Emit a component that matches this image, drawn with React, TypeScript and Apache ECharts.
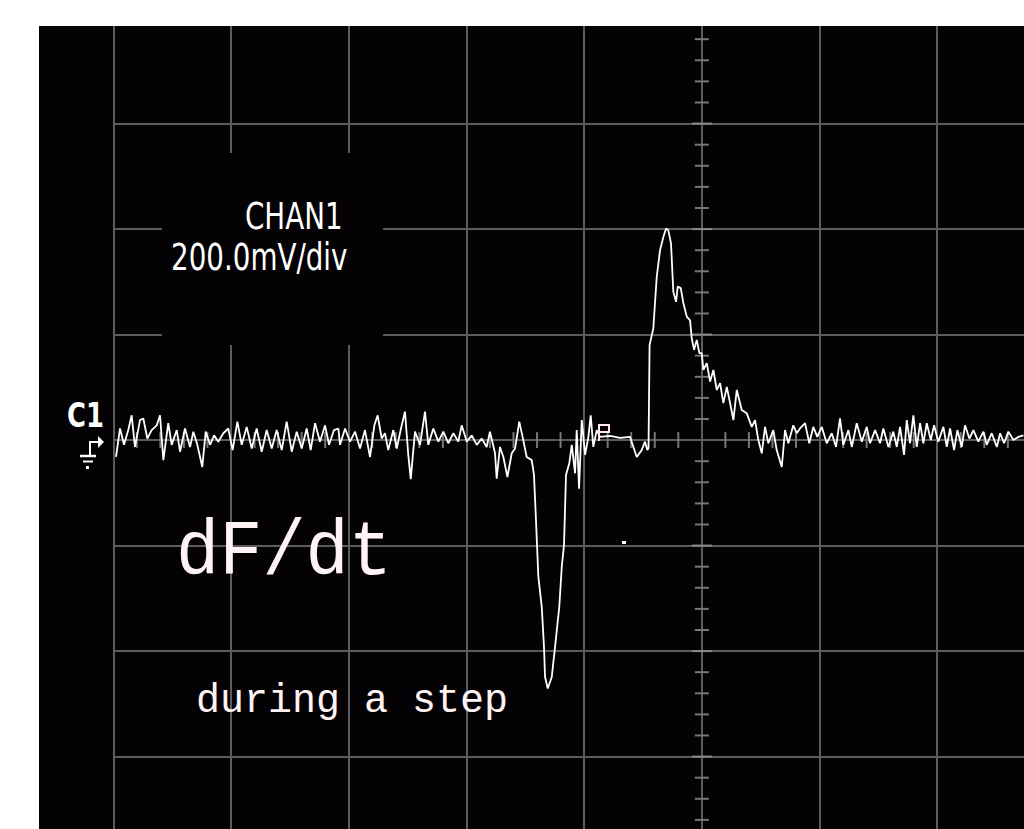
import React, { useEffect, useRef } from "react";
import * as echarts from "echarts";

// Oscilloscope trace, time in divisions, amplitude in mV (200 mV/div)
const baselineLeft: [number, number][] = [
  [0.023, -32], [0.057, 22], [0.091, -9], [0.127, 19], [0.156, 47], [0.184, -13], [0.227, 38], [0.255, 41],
  [0.289, 3], [0.326, 19], [0.369, 28], [0.397, 47], [0.425, -38], [0.467, 32], [0.496, -9], [0.539, 19],
  [0.567, -22], [0.609, 22], [0.652, -13], [0.68, 16], [0.714, -9], [0.756, -51], [0.785, 16], [0.822, -9],
  [0.856, 9], [0.892, -3], [0.935, 13], [0.977, 22], [1.014, -19], [1.054, 35], [1.091, -9], [1.133, 25],
  [1.176, -16], [1.218, 22], [1.261, -22], [1.303, 19], [1.346, -16], [1.388, 19], [1.431, -19], [1.473, 35],
  [1.516, -22], [1.558, 16], [1.601, -16], [1.643, 22], [1.677, -19], [1.714, 32], [1.756, -3], [1.799, 28],
  [1.833, -9], [1.875, 19], [1.912, 22], [1.926, -9], [1.969, 22], [2.011, -3], [2.054, 16], [2.096, -16],
  [2.138, 19], [2.181, -32], [2.218, 28], [2.246, 47], [2.28, 3], [2.308, 13], [2.336, -19], [2.379, 19],
  [2.408, -16], [2.444, 22], [2.478, 54], [2.506, -28], [2.527, -74], [2.563, 16], [2.606, -9], [2.648, 54],
  [2.676, -9], [2.719, 22], [2.761, -3], [2.804, 16], [2.846, -6], [2.889, 13], [2.931, -3], [2.96, 28],
  [3.003, -3], [3.045, 9], [3.088, -9], [3.13, 3], [3.172, -13], [3.2, 16], [3.243, -25],
];

const dip: [number, number][] = [
  [3.257, -73], [3.285, -13], [3.314, -32], [3.348, -70], [3.385, -25], [3.413, -16], [3.449, 35], [3.483, 0],
  [3.512, -32], [3.555, -38], [3.574, -66], [3.591, -152], [3.611, -259], [3.64, -316], [3.659, -392],
  [3.668, -449], [3.691, -471], [3.725, -449], [3.753, -392], [3.789, -316], [3.81, -240], [3.829, -199],
  [3.846, -66], [3.874, -44], [3.895, -9], [3.923, -63], [3.937, 19], [3.957, -92], [3.98, 38], [4.008, -28],
  [4.036, 6], [4.056, 47], [4.078, -13], [4.107, 19],
];

const flatPart: [number, number][] = [
  [4.135, 6], [4.22, 8], [4.305, 4], [4.39, 6], [4.447, -32], [4.489, -19], [4.517, -3], [4.537, -19],
];

const peak: [number, number][] = [
  [4.547, -15], [4.556, 180], [4.588, 212], [4.617, 310], [4.645, 360], [4.673, 385], [4.696, 401],
  [4.715, 398], [4.738, 373], [4.758, 281], [4.781, 262], [4.795, 291], [4.821, 288], [4.843, 260],
  [4.872, 234], [4.9, 227], [4.914, 193], [4.934, 171], [4.957, 190], [4.979, 165], [4.999, 165],
  [5.013, 133], [5.042, 146], [5.07, 111], [5.098, 133], [5.127, 95], [5.155, 108], [5.183, 70],
  [5.212, 101], [5.24, 70], [5.268, 38], [5.297, 95], [5.339, 57], [5.381, 51], [5.424, 25], [5.452, 38],
  [5.48, 0], [5.509, -25], [5.537, 25], [5.565, -6], [5.607, 19], [5.636, -19], [5.679, -51],
];

const baselineRight: [number, number][] = [
  [5.707, 19], [5.735, -6], [5.777, 28], [5.806, 13], [5.834, 22], [5.877, 32], [5.913, -6], [5.947, 25],
  [5.981, 6], [6.019, 25], [6.061, -6], [6.104, 13], [6.14, -13], [6.174, 41], [6.202, -9], [6.245, 19],
  [6.274, -13], [6.316, 32], [6.359, -3], [6.401, 25], [6.429, -6], [6.472, 19], [6.514, -6], [6.542, 22],
  [6.585, -13], [6.627, 16], [6.656, -13], [6.684, 25], [6.718, -28], [6.741, 38], [6.769, -6], [6.797, 47],
  [6.826, -13], [6.854, 32], [6.882, -6], [6.911, 32], [6.945, 0], [6.973, 28], [7.009, -3], [7.052, 25],
  [7.081, -13], [7.109, 22], [7.143, -19], [7.171, 19], [7.208, -13], [7.236, 28], [7.273, 3], [7.307, 19],
  [7.349, -3], [7.392, 16], [7.42, -9], [7.463, 13], [7.506, -13], [7.534, 13], [7.568, -6], [7.604, 16],
  [7.647, 0], [7.689, 6], [7.732, 9],
];

const X_MIN = 0;
const X_MAX = 7.737;
const X_DIV = 1;
const Y_MIN = -800;
const Y_MAX = 785;
const Y_DIV = 200;
const CENTER_X = 5;
const X_MINOR = 0.2;
const Y_MINOR = 40;

const labelChan = "CHAN1";
const labelScale = "200.0mV/div";
const labelTitle = "dF/dt";
const labelSub = "during a step";
const labelChannel = "C1";

function buildTicks() {
  const ticks: number[][] = [];
  for (let k = 1; k * X_MINOR < X_MAX; k++) {
    const x = +(k * X_MINOR).toFixed(3);
    if (Math.abs(x - Math.round(x)) < 1e-6) continue;
    ticks.push([x, 0, 0, 8]);
  }
  for (let k = Math.ceil(Y_MIN / Y_MINOR); k * Y_MINOR < Y_MAX; k++) {
    const y = k * Y_MINOR;
    if (y === 0) continue;
    const major = y % Y_DIV === 0;
    ticks.push([CENTER_X, y, 1, major ? 10 : 7]);
  }
  return ticks;
}

const PX_PER_DIV_Y = 105.5;
const GRID_TOP = 26;
const GRID_HEIGHT = ((Y_MAX - Y_MIN) / Y_DIV) * PX_PER_DIV_Y;
const CHART_HEIGHT = Math.ceil(GRID_TOP + GRID_HEIGHT + 10);

export default function App() {
  const ref = useRef<HTMLDivElement>(null);
  useEffect(() => {
    if (!ref.current) return;
    const chart = echarts.init(ref.current, undefined, { renderer: "svg" });
    const gridColor = "#5c5b5d";
    const textFill = "#fff3f3";
    chart.setOption({
      animation: false,
      backgroundColor: "#040205",
      grid: {
        left: 113.3,
        top: GRID_TOP,
        width: 910.7,
        height: GRID_HEIGHT,
        containLabel: false,
      },
      xAxis: {
        type: "value",
        min: X_MIN,
        max: X_MAX,
        interval: X_DIV,
        axisLine: { show: false },
        axisTick: { show: false },
        axisLabel: { show: false },
        splitLine: { show: true, showMaxLine: false, lineStyle: { color: gridColor, width: 2 } },
      },
      yAxis: {
        type: "value",
        min: Y_MIN,
        max: Y_MAX,
        interval: Y_DIV,
        axisLine: { show: false },
        axisTick: { show: false },
        axisLabel: { show: false },
        splitLine: { show: true, showMaxLine: false, lineStyle: { color: gridColor, width: 2 } },
      },
      series: [
        {
          type: "custom",
          z: 1,
          silent: true,
          data: buildTicks(),
          renderItem: (_p: any, api: any) => {
            const x = api.value(0);
            const y = api.value(1);
            const dir = api.value(2);
            const half = api.value(3);
            const pt = api.coord([x, y]);
            const shape =
              dir === 0
                ? { x1: pt[0], y1: pt[1] - half, x2: pt[0], y2: pt[1] + half }
                : { x1: pt[0] - half, y1: pt[1], x2: pt[0] + half, y2: pt[1] };
            return {
              type: "line",
              shape,
              style: { stroke: half > 8 ? "#8a8a8a" : "#777777", lineWidth: 2 },
            };
          },
        },
        {
          type: "line",
          z: 5,
          silent: true,
          showSymbol: false,
          symbol: "none",
          data: [...baselineLeft, ...dip, ...flatPart, ...peak, ...baselineRight],
          lineStyle: { color: "#ffffff", width: 1.8 },
        },
      ],
      graphic: [
        { type: "rect", z: 10, shape: { x: 162, y: 153, width: 221, height: 192 }, style: { fill: "#040205" } },
        {
          type: "text", z: 11, x: 245, y: 216.8, scaleX: 0.75,
          style: { text: labelChan, fill: "#ffffff", fontSize: 37, fontFamily: "DejaVu Sans", align: "left", verticalAlign: "middle", textAlign: "left", textVerticalAlign: "middle" },
        },
        {
          type: "text", z: 11, x: 171, y: 257.8, scaleX: 0.75,
          style: { text: labelScale, fill: "#ffffff", fontSize: 37, fontFamily: "DejaVu Sans", align: "left", verticalAlign: "middle", textAlign: "left", textVerticalAlign: "middle" },
        },
        {
          type: "text", z: 11, x: 176, y: 554, scaleY: 1.08,
          style: { text: labelTitle, fill: textFill, fontSize: 72, fontFamily: "Liberation Mono", align: "left", verticalAlign: "middle", textAlign: "left", textVerticalAlign: "middle" },
        },
        {
          type: "text", z: 11, x: 196, y: 701,
          style: { text: labelSub, fill: textFill, fontSize: 40, fontFamily: "Liberation Mono", align: "left", verticalAlign: "middle", textAlign: "left", textVerticalAlign: "middle" },
        },
        {
          type: "text", z: 11, x: 67, y: 415.2, scaleX: 0.76,
          style: { text: labelChannel, fill: "#ffffff", fontSize: 34, fontWeight: "bold", fontFamily: "DejaVu Sans", align: "left", verticalAlign: "middle", textAlign: "left", textVerticalAlign: "middle" },
        },
        { type: "polyline", z: 11, shape: { points: [[90, 455], [90, 442], [100, 442]] }, style: { stroke: "#ffffff", lineWidth: 2, fill: null } },
        { type: "polygon", z: 11, shape: { points: [[98, 436], [104, 442], [98, 448]] }, style: { fill: "#ffffff" } },
        { type: "line", z: 11, shape: { x1: 80, y1: 456, x2: 96, y2: 456 }, style: { stroke: "#ffffff", lineWidth: 2.5 } },
        { type: "line", z: 11, shape: { x1: 83, y1: 461.5, x2: 93, y2: 461.5 }, style: { stroke: "#ffffff", lineWidth: 2 } },
        { type: "rect", z: 11, shape: { x: 86, y: 466, width: 3, height: 3 }, style: { fill: "#ffffff" } },
        { type: "polyline", z: 11, shape: { points: [[599, 441], [599, 425], [609, 425], [609, 432], [599, 432]] }, style: { stroke: "#ffe8ee", lineWidth: 2, fill: null } },
        { type: "rect", z: 11, shape: { x: 622, y: 541, width: 4, height: 3 }, style: { fill: "#ffffff" } },
        { type: "rect", z: 20, shape: { x: 0, y: 0, width: 1024, height: 26 }, style: { fill: "#ffffff" } },
        { type: "rect", z: 20, shape: { x: 0, y: 0, width: 39, height: CHART_HEIGHT }, style: { fill: "#ffffff" } },
      ],
    });
    return () => chart.dispose();
  }, []);
  return (
    <div style={{ position: "absolute", left: 0, top: 0, width: 1024, height: 829, overflow: "hidden" }}>
      <div ref={ref} style={{ width: 1024, height: CHART_HEIGHT }} />
    </div>
  );
}
